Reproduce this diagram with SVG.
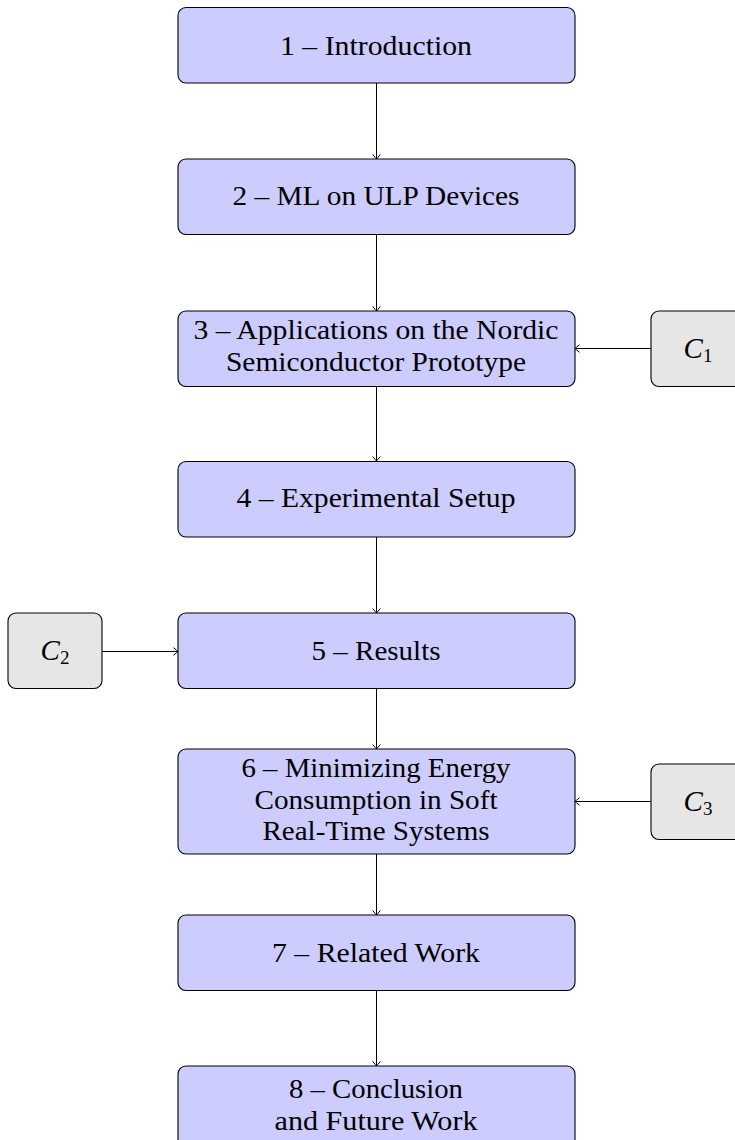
<svg xmlns="http://www.w3.org/2000/svg" width="735" height="1140" viewBox="0 0 735 1140">
<style>
.main{fill:#ccccff;stroke:#000;stroke-width:1.1}
.side{fill:#e6e6e6;stroke:#000;stroke-width:1.1}
text{font-family:"Liberation Serif","Times New Roman",serif;font-size:27px;fill:#000;text-anchor:middle}
.sub{font-size:19px}
.cl{font-size:29px}
.conn line{stroke:#000;stroke-width:1;fill:none}
</style>
<defs>
<marker id="arr" markerUnits="userSpaceOnUse" markerWidth="12" markerHeight="12" viewBox="-6 -6 12 12" refX="0" refY="0" orient="auto" overflow="visible">
<path d="M -4.5 -3.8 Q -1 -0.9 0 0 Q -1 0.9 -4.5 3.8" fill="none" stroke="#000" stroke-width="1"/>
</marker>
</defs>
<rect width="735" height="1140" fill="#fff"/>
<g class="conn">
<line x1="376.5" y1="83" x2="376.5" y2="159" marker-end="url(#arr)"/>
<line x1="376.5" y1="234" x2="376.5" y2="311" marker-end="url(#arr)"/>
<line x1="376.5" y1="386" x2="376.5" y2="461" marker-end="url(#arr)"/>
<line x1="376.5" y1="537" x2="376.5" y2="613" marker-end="url(#arr)"/>
<line x1="376.5" y1="688" x2="376.5" y2="749" marker-end="url(#arr)"/>
<line x1="376.5" y1="854" x2="376.5" y2="915" marker-end="url(#arr)"/>
<line x1="376.5" y1="991" x2="376.5" y2="1066" marker-end="url(#arr)"/>
<line x1="651" y1="348.5" x2="575" y2="348.5" marker-end="url(#arr)"/>
<line x1="102" y1="651.5" x2="178" y2="651.5" marker-end="url(#arr)"/>
<line x1="651" y1="801.5" x2="575" y2="801.5" marker-end="url(#arr)"/>
</g>
<g id="n1"><rect class="main" x="178" y="7.5" width="397" height="75.5" rx="8"/><text x="376" y="55" textLength="192" lengthAdjust="spacingAndGlyphs">1 – Introduction</text></g>
<g id="n2"><rect class="main" x="178" y="159" width="397" height="75.5" rx="8"/><text x="376" y="205" textLength="287" lengthAdjust="spacingAndGlyphs">2 – ML on ULP Devices</text></g>
<g id="n3"><rect class="main" x="178" y="311" width="397" height="75.5" rx="8"/><text x="376" y="339" textLength="365" lengthAdjust="spacingAndGlyphs">3 – Applications on the Nordic</text><text x="376" y="371" textLength="300" lengthAdjust="spacingAndGlyphs">Semiconductor Prototype</text></g>
<g id="n4"><rect class="main" x="178" y="461.5" width="397" height="75.5" rx="8"/><text x="376" y="507" textLength="279" lengthAdjust="spacingAndGlyphs">4 – Experimental Setup</text></g>
<g id="n5"><rect class="main" x="178" y="613" width="397" height="75.5" rx="8"/><text x="376" y="660" textLength="129" lengthAdjust="spacingAndGlyphs">5 – Results</text></g>
<g id="n6"><rect class="main" x="178" y="749" width="397" height="105" rx="8"/><text x="376" y="777" textLength="269" lengthAdjust="spacingAndGlyphs">6 – Minimizing Energy</text><text x="376" y="809" textLength="243" lengthAdjust="spacingAndGlyphs">Consumption in Soft</text><text x="376" y="840" textLength="227" lengthAdjust="spacingAndGlyphs">Real-Time Systems</text></g>
<g id="n7"><rect class="main" x="178" y="915" width="397" height="75.5" rx="8"/><text x="376" y="962" textLength="208" lengthAdjust="spacingAndGlyphs">7 – Related Work</text></g>
<g id="n8"><rect class="main" x="178" y="1066" width="397" height="90" rx="8"/><text x="376" y="1098" textLength="174" lengthAdjust="spacingAndGlyphs">8 – Conclusion</text><text x="376" y="1130" textLength="203" lengthAdjust="spacingAndGlyphs">and Future Work</text></g>
<g id="c1"><rect class="side" x="651" y="311" width="94" height="75.5" rx="8"/><text class="cl" x="698" y="358"><tspan font-style="italic">C</tspan><tspan class="sub" dy="4">1</tspan></text></g>
<g id="c2"><rect class="side" x="8" y="613" width="94" height="75.5" rx="8"/><text class="cl" x="55" y="660"><tspan font-style="italic">C</tspan><tspan class="sub" dy="4">2</tspan></text></g>
<g id="c3"><rect class="side" x="651" y="764" width="94" height="75.5" rx="8"/><text class="cl" x="698" y="811"><tspan font-style="italic">C</tspan><tspan class="sub" dy="4">3</tspan></text></g>
</svg>
